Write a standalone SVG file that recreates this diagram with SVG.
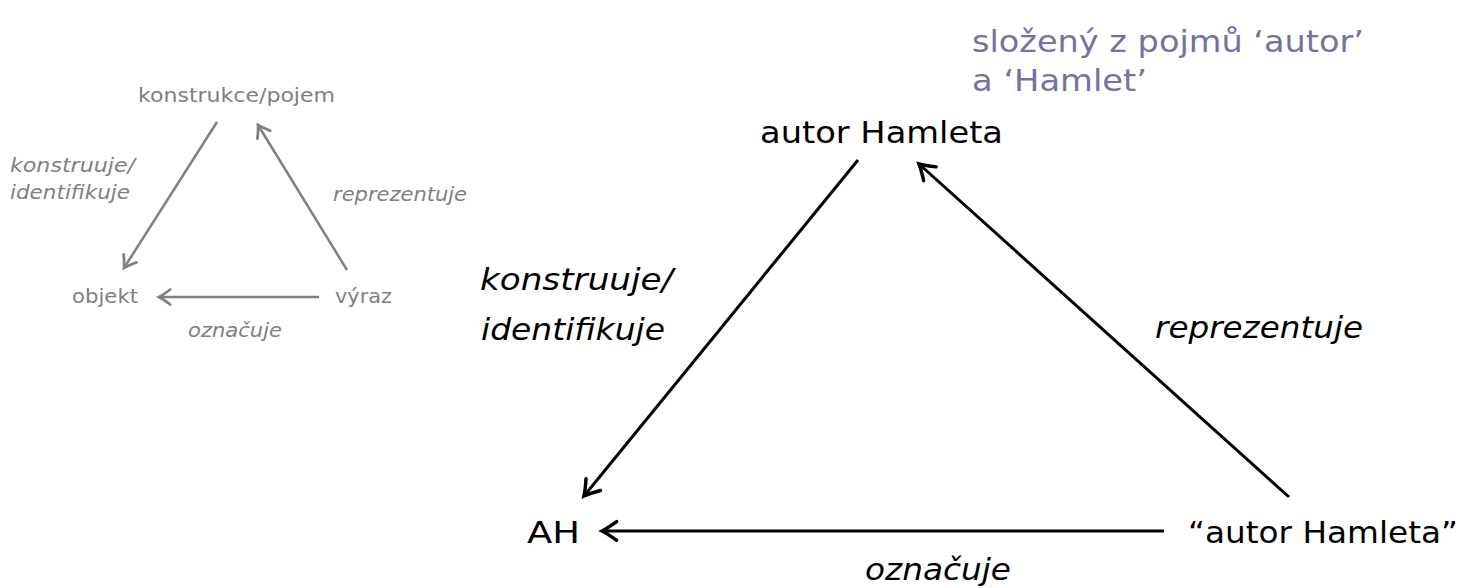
<svg xmlns="http://www.w3.org/2000/svg" width="1466" height="588" viewBox="0 0 1466 588">
<style>
text{font-family:"DejaVu Sans","Liberation Sans",sans-serif}
.s{font-size:20px;fill:#808080}
.l{font-size:31px;fill:#000}
.p{font-size:31px;fill:#7373a1}
.i{font-style:italic}
.cs{stroke:#808080;stroke-width:2.5;fill:none}
.cl{stroke:#000;stroke-width:3;fill:none}
</style>
<defs>
<marker id="ag" markerUnits="userSpaceOnUse" markerWidth="20" markerHeight="20" viewBox="-12 -8 14 16" refX="0" refY="0" orient="auto">
<path d="M-9,-6 Q-3,-1.5 0,0 Q-3,1.5 -9,6" fill="none" stroke="#808080" stroke-width="2.2" stroke-linecap="round"/>
</marker>
<marker id="ab" markerUnits="userSpaceOnUse" markerWidth="24" markerHeight="24" viewBox="-14 -9 16 18" refX="0" refY="0" orient="auto">
<path d="M-11,-7 Q-4,-2 0,0 Q-4,2 -11,7" fill="none" stroke="#000" stroke-width="2.6" stroke-linecap="round"/>
</marker>
</defs>
<g id="connectors">
<line class="cs" x1="217" y1="122" x2="124" y2="268" marker-end="url(#ag)"/>
<line class="cs" x1="347" y1="270" x2="258" y2="125" marker-end="url(#ag)"/>
<line class="cs" x1="319" y1="297" x2="159" y2="297" marker-end="url(#ag)"/>
<line class="cl" x1="858" y1="160" x2="584" y2="496" marker-end="url(#ab)"/>
<line class="cl" x1="1289" y1="497" x2="919" y2="164" marker-end="url(#ab)"/>
<line class="cl" x1="1164" y1="531" x2="602" y2="531" marker-end="url(#ab)"/>
</g>
<g id="small-labels">
<text class="s i" x="10" y="172" textLength="125" lengthAdjust="spacingAndGlyphs">konstruuje/</text>
<text class="s i" x="10" y="199" textLength="120" lengthAdjust="spacingAndGlyphs">identifikuje</text>
<text class="s i" x="333" y="201" textLength="134" lengthAdjust="spacingAndGlyphs">reprezentuje</text>
<text class="s i" x="188" y="337" textLength="94" lengthAdjust="spacingAndGlyphs">označuje</text>
</g>
<g id="n-konstrukce"><text class="s" x="138" y="102" textLength="197" lengthAdjust="spacingAndGlyphs">konstrukce/pojem</text></g>
<g id="n-objekt"><text class="s" x="72" y="303" textLength="66" lengthAdjust="spacingAndGlyphs">objekt</text></g>
<g id="n-vyraz"><text class="s" x="335" y="303" textLength="57" lengthAdjust="spacingAndGlyphs">výraz</text></g>
<g id="n-note">
<text class="p" x="972" y="52" textLength="392" lengthAdjust="spacingAndGlyphs">složený z pojmů ‘autor’</text>
<text class="p" x="972" y="91" textLength="175" lengthAdjust="spacingAndGlyphs">a ‘Hamlet’</text>
</g>
<g id="n-autor"><text class="l" x="760" y="143" textLength="243" lengthAdjust="spacingAndGlyphs">autor Hamleta</text></g>
<g id="n-AH"><text class="l" x="527" y="543" textLength="53" lengthAdjust="spacingAndGlyphs">AH</text></g>
<g id="n-expr"><text class="l" x="1188" y="543" textLength="270" lengthAdjust="spacingAndGlyphs">“autor Hamleta”</text></g>
<g id="large-labels">
<text class="l i" x="480" y="290" textLength="193" lengthAdjust="spacingAndGlyphs">konstruuje/</text>
<text class="l i" x="481" y="340" textLength="184" lengthAdjust="spacingAndGlyphs">identifikuje</text>
<text class="l i" x="1155" y="338" textLength="208" lengthAdjust="spacingAndGlyphs">reprezentuje</text>
<text class="l i" x="865" y="580" textLength="146" lengthAdjust="spacingAndGlyphs">označuje</text>
</g>
</svg>
